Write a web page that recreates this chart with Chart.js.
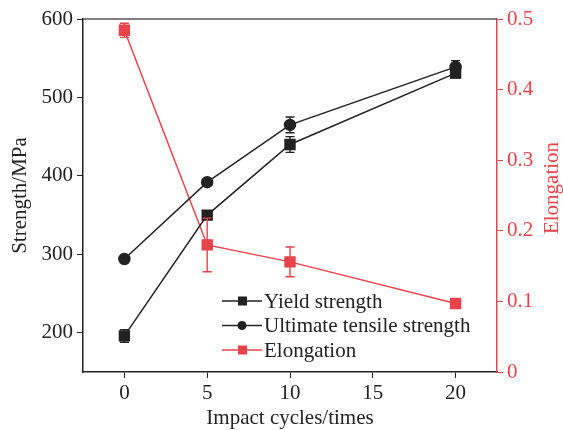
<!DOCTYPE html>
<html>
<head>
<meta charset="utf-8">
<script src="https://cdn.jsdelivr.net/npm/chart.js@4/dist/chart.umd.min.js"></script>
<style>
html, body { margin: 0; padding: 0; background: #fff; }
#wrap { width: 563px; height: 430px; }
</style>
</head>
<body>
<div id="wrap"><canvas id="myChart"></canvas></div>
<script>
const cycles = [0, 5, 10, 20];
const xTicks = [0, 5, 10, 15, 20];
const strengthTicks = [200, 300, 400, 500, 600];
const yieldStrength = [196, 350, 440, 531];
const yieldErr = [8, 3, 10, 6];
const ultimateStrength = [294, 392, 465, 539];
const ultimateErr = [2, 2, 10, 8];
const elongation = [0.484, 0.180, 0.156, 0.097];
const elongationErr = [0.01, 0.038, 0.021, 0.002];

const red = "#e8434b";
const dark = "#222";
const serif = "'Liberation Serif', 'Times New Roman', serif";

Chart.defaults.font.family = serif;
Chart.defaults.font.size = 21;
Chart.defaults.color = dark;

function toPoints(ys) {
    return cycles.map((x, i) => ({ x: x, y: ys[i] }));
}

// vertical error bars, drawn through the dataset's own scales
const errorBars = {
    id: "errorBars",
    afterDatasetsDraw(chart) {
        const ctx = chart.ctx;
        const xs = chart.scales.x;
        chart.data.datasets.forEach(ds => {
            const ys = chart.scales[ds.yAxisID];
            ctx.save();
            ctx.strokeStyle = ds.borderColor;
            ctx.lineWidth = 1.4;
            ds.data.forEach((p, i) => {
                const e = ds.errors[i];
                const px = xs.getPixelForValue(p.x);
                const top = ys.getPixelForValue(p.y + e);
                const bot = ys.getPixelForValue(p.y - e);
                ctx.beginPath();
                ctx.moveTo(px, top); ctx.lineTo(px, bot);
                ctx.moveTo(px - 4.5, top); ctx.lineTo(px + 4.5, top);
                ctx.moveTo(px - 4.5, bot); ctx.lineTo(px + 4.5, bot);
                ctx.stroke();
            });
            ctx.restore();
        });
    }
};

// frame top line, axis titles (bottom, right) and the legend inside the plot
const extras = {
    id: "extras",
    afterDraw(chart) {
        const ctx = chart.ctx;
        const a = chart.chartArea;
        ctx.save();
        ctx.strokeStyle = "#555";
        ctx.lineWidth = 1.5;
        ctx.beginPath();
        ctx.moveTo(a.left, a.top);
        ctx.lineTo(a.right, a.top);
        ctx.stroke();

        ctx.font = "21px " + serif;
        ctx.textAlign = "center";
        ctx.textBaseline = "middle";
        ctx.fillStyle = dark;
        ctx.fillText("Impact cycles/times", (a.left + a.right) / 2, 418);

        ctx.fillStyle = red;
        ctx.translate(552, 188);
        ctx.rotate(-Math.PI / 2);
        ctx.fillText("Elongation", 0, 0);
        ctx.restore();

        ctx.save();
        ctx.font = "21px " + serif;
        ctx.textBaseline = "middle";
        chart.data.datasets.forEach((ds, i) => {
            const y = 301 + i * 24.5;
            ctx.strokeStyle = ds.borderColor;
            ctx.fillStyle = ds.borderColor;
            ctx.lineWidth = 1.5;
            ctx.beginPath();
            ctx.moveTo(222, y); ctx.lineTo(262, y);
            ctx.stroke();
            if (ds.pointStyle === "circle") {
                ctx.beginPath();
                ctx.arc(242, y, 4.5, 0, Math.PI * 2);
                ctx.fill();
            } else {
                ctx.fillRect(238, y - 4.5, 9, 9);
            }
            ctx.fillStyle = dark;
            ctx.fillText(ds.label, 264, y + 1);
        });
        ctx.restore();
    }
};

new Chart("myChart", {
    type: "line",
    data: {
        datasets: [{
            label: "Yield strength",
            data: toPoints(yieldStrength),
            errors: yieldErr,
            yAxisID: "y",
            borderColor: dark,
            backgroundColor: dark,
            borderWidth: 1.5,
            pointStyle: "rect",
            pointRadius: 7,
            pointHoverRadius: 7
        }, {
            label: "Ultimate tensile strength",
            data: toPoints(ultimateStrength),
            errors: ultimateErr,
            yAxisID: "y",
            borderColor: dark,
            backgroundColor: dark,
            borderWidth: 1.5,
            pointStyle: "circle",
            pointRadius: 5.5,
            pointHoverRadius: 5.5
        }, {
            label: "Elongation",
            data: toPoints(elongation),
            errors: elongationErr,
            yAxisID: "y1",
            borderColor: red,
            backgroundColor: red,
            borderWidth: 1.5,
            pointStyle: "rect",
            pointRadius: 7,
            pointHoverRadius: 7
        }]
    },
    options: {
        responsive: true,
        maintainAspectRatio: false,
        animation: false,
        layout: { padding: { top: 19, left: 0, right: 0, bottom: 0 } },
        plugins: {
            legend: { display: false },
            tooltip: { enabled: false }
        },
        scales: {
            x: {
                type: "linear",
                min: -2.5,
                max: 22.5,
                afterBuildTicks: s => { s.ticks = xTicks.map(v => ({ value: v })); },
                afterFit: s => { s.height = 58; },
                grid: { drawOnChartArea: false, tickLength: 6, color: dark },
                border: { color: dark, width: 1.5 },
                ticks: { color: dark, padding: 3, maxRotation: 0 }
            },
            y: {
                position: "left",
                min: 150,
                max: 600,
                afterBuildTicks: s => { s.ticks = strengthTicks.map(v => ({ value: v })); },
                afterFit: s => { s.width = 83; },
                grid: { drawOnChartArea: false, tickLength: 6, color: dark },
                border: { color: dark, width: 1.5 },
                ticks: { color: dark, padding: 4 },
                title: { display: true, text: "Strength/MPa", color: dark, padding: { top: 8, bottom: 0 } }
            },
            y1: {
                position: "right",
                min: 0,
                max: 0.5,
                ticks: {
                    stepSize: 0.1,
                    color: red,
                    padding: 4,
                    callback: v => String(Math.round(v * 10) / 10)
                },
                afterFit: s => { s.width = 66; },
                grid: { drawOnChartArea: false, tickLength: 6, color: red },
                border: { color: red, width: 1.5 }
            }
        }
    },
    plugins: [errorBars, extras]
});
</script>
</body>
</html>
